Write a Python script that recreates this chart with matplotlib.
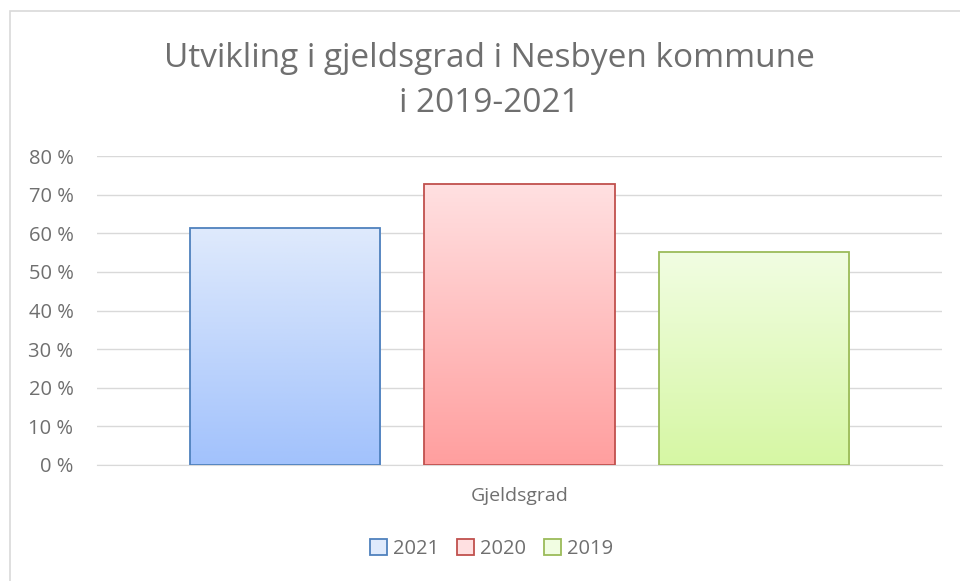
import matplotlib.pyplot as plt
import numpy as np
from matplotlib.colors import LinearSegmentedColormap
from matplotlib.patches import Rectangle
from matplotlib.ticker import FuncFormatter

plt.rcParams["font.family"] = ["Open Sans", "DejaVu Sans"]

TITLE = "Utvikling i gjeldsgrad i Nesbyen kommune\ni 2019-2021"
CATEGORY = "Gjeldsgrad"
YEARS = ["2021", "2020", "2019"]
VALUES = [0.614, 0.728, 0.552]
EDGES = ["#4f81bd", "#c0504d", "#9bbb59"]
TOPS = ["#dfeafc", "#ffe0e1", "#f1fde2"]
BOTTOMS = ["#a2c2fc", "#ff9f9f", "#d6f7a4"]

TXT = "#6f6f6f"
GRID = "#d9d9d9"

fig = plt.figure(figsize=(9.6, 5.81), dpi=100)
# chart-area border, cut off at the right and bottom like the screenshot
fig.add_artist(Rectangle((10 / 960, -0.05), 1.0, 1.05 - 11 / 581, transform=fig.transFigure,
                         fill=False, edgecolor=GRID, lw=1.2))
ax = fig.add_axes([97 / 960, (581 - 465) / 581, 845 / 960, (465 - 156) / 581])

width, offset = 0.225, 0.277
xs = [-offset, 0.0, offset]
bars = ax.bar(xs, VALUES, width=width, edgecolor=EDGES, linewidth=1.3, facecolor="none", zorder=3)
for b, top, bot in zip(bars, TOPS, BOTTOMS):
    cmap = LinearSegmentedColormap.from_list("g", [bot, top])
    grad = np.linspace(1, 0, 100).reshape(-1, 1)
    im = ax.imshow(grad, cmap=cmap, aspect="auto", zorder=2, vmin=0, vmax=1,
                   extent=(b.get_x(), b.get_x() + b.get_width(), 0, b.get_height()))
    im.set_clip_path(b)

ax.set_xlim(-0.5, 0.5)
ax.set_ylim(0, 0.8)
ax.set_yticks(np.arange(0, 0.81, 0.1))
ax.yaxis.set_major_formatter(FuncFormatter(lambda v, _: f"{v * 100:.0f} %"))
ax.set_xticks([0])
ax.set_xticklabels([CATEGORY])
ax.tick_params(axis="y", length=0, labelsize=14.5, labelcolor=TXT, pad=17)
ax.tick_params(axis="x", length=0, labelsize=14, labelcolor=TXT, pad=16)
ax.grid(axis="y", color=GRID, lw=1, zorder=0)
for s in ["top", "right", "left"]:
    ax.spines[s].set_visible(False)
ax.spines["bottom"].set_color(GRID)

fig.text(0.51, 1 - 81 / 581, TITLE, ha="center", va="center", fontsize=24, color=TXT, linespacing=1.5)

handles = [Rectangle((0, 0), 1, 1, facecolor=t, edgecolor=e, lw=1.3) for t, e in zip(TOPS, EDGES)]
fig.legend(handles, YEARS, loc="center", bbox_to_anchor=(0.512, 1 - 549 / 581), ncol=3, frameon=False,
           fontsize=14.5, labelcolor=TXT, handlelength=0.85, handleheight=0.85, handletextpad=0.3,
           columnspacing=0.9)

fig.savefig("out.png", dpi=100)
